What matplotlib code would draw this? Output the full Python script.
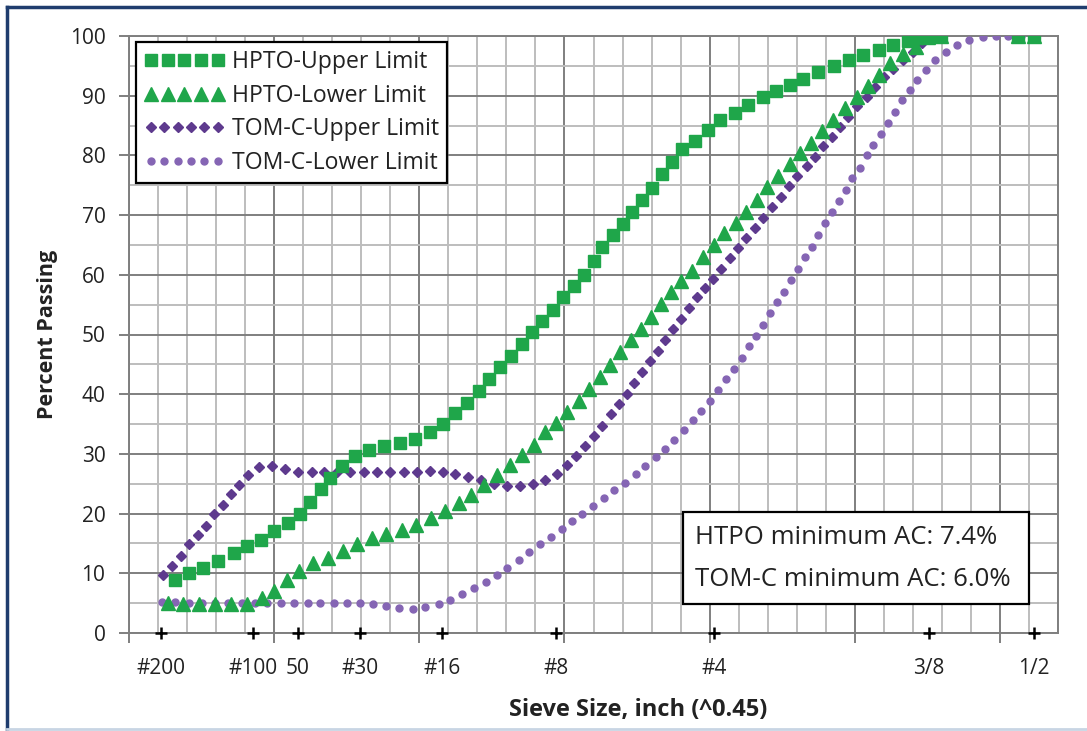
import numpy as np
import matplotlib
matplotlib.use("Agg")
import matplotlib.pyplot as plt
from matplotlib.legend_handler import HandlerLine2D
from matplotlib.patches import Rectangle
from matplotlib.lines import Line2D

plt.rcParams["font.family"] = ["Open Sans", "DejaVu Sans"]

# sieve labels, positions = opening (mm) ^ 0.45
sieve_labels = ["#200", "#100", "50", "#30", "#16", "#8", "#4", "3/8", "1/2"]
sieve_mm = np.array([0.0075, 0.15, 0.3, 0.6, 1.18, 2.36, 4.75, 9.5, 12.5])
sieve_x = sieve_mm ** 0.45

# HPTO upper limit (squares)
hu_x = [0.159, 0.205, 0.256, 0.308, 0.360, 0.406, 0.455, 0.501, 0.546, 0.590,
        0.624, 0.660, 0.694, 0.733, 0.779, 0.828, 0.879, 0.932, 0.984, 1.036,
        1.082, 1.124, 1.164, 1.205, 1.241, 1.279, 1.316, 1.352, 1.389, 1.423,
        1.460, 1.495, 1.532, 1.567, 1.601, 1.630, 1.667, 1.701, 1.733, 1.768,
        1.800, 1.837, 1.871, 1.906, 1.949, 1.994, 2.036, 2.086, 2.132, 2.185,
        2.228, 2.277, 2.323, 2.373, 2.427, 2.480, 2.530, 2.582, 2.633, 2.682,
        2.716, 2.751, 2.797, 3.062, 3.117]
hu_y = [8.8, 10.0, 10.9, 12.1, 13.4, 14.5, 15.5, 17.1, 18.4, 20.0,
        22.0, 24.1, 25.9, 27.9, 29.6, 30.7, 31.4, 31.8, 32.5, 33.6,
        35.0, 36.9, 38.6, 40.6, 42.5, 44.5, 46.4, 48.4, 50.4, 52.3,
        54.1, 56.2, 58.1, 60.0, 62.3, 64.7, 66.6, 68.5, 70.6, 72.5,
        74.6, 76.9, 78.9, 81.0, 82.4, 84.3, 85.9, 87.1, 88.4, 89.7,
        90.8, 91.8, 92.8, 94.0, 94.9, 96.0, 96.8, 97.7, 98.5, 99.1,
        99.6, 100, 100, 100, 100]

# HPTO lower limit (triangles)
hl_x = [0.133, 0.187, 0.241, 0.297, 0.352, 0.406, 0.458, 0.501, 0.544, 0.586,
        0.633, 0.684, 0.736, 0.785, 0.837, 0.886, 0.940, 0.990, 1.040, 1.090,
        1.136, 1.179, 1.224, 1.268, 1.311, 1.354, 1.394, 1.432, 1.472, 1.509,
        1.549, 1.584, 1.621, 1.656, 1.693, 1.728, 1.762, 1.797, 1.831, 1.866,
        1.903, 1.940, 1.977, 2.015, 2.049, 2.090, 2.127, 2.162, 2.199, 2.236,
        2.276, 2.311, 2.348, 2.386, 2.425, 2.466, 2.506, 2.544, 2.584, 2.622,
        2.667, 2.710, 2.751, 2.797, 3.062, 3.117]
hl_y = [5.1, 4.9, 4.8, 4.8, 4.8, 4.8, 5.8, 7.0, 8.8, 10.4,
        11.7, 12.5, 13.8, 14.9, 15.9, 16.6, 17.3, 18.1, 19.2, 20.4,
        21.8, 23.1, 24.8, 26.5, 28.1, 29.8, 31.5, 33.6, 35.2, 37.1,
        38.9, 40.8, 42.8, 44.9, 47.1, 49.1, 50.9, 53.0, 55.1, 57.1,
        59.0, 60.7, 63.0, 65.0, 67.0, 68.7, 70.6, 72.6, 74.7, 76.6,
        78.6, 80.4, 82.1, 84.1, 86.0, 87.9, 89.8, 91.6, 93.5, 95.5,
        97.0, 98.2, 99.9, 100, 100, 100]

# TOM-C upper limit (diamonds)
tu_x = [0.118, 0.149, 0.179, 0.208, 0.237, 0.265, 0.294, 0.323, 0.352, 0.380,
        0.409, 0.449, 0.494, 0.537, 0.583, 0.629, 0.672, 0.716, 0.762, 0.808,
        0.854, 0.900, 0.946, 0.992, 1.038, 1.082, 1.124, 1.168, 1.213, 1.256,
        1.302, 1.348, 1.392, 1.434, 1.475, 1.507, 1.538, 1.569, 1.601, 1.630,
        1.659, 1.687, 1.714, 1.739, 1.768, 1.794, 1.822, 1.848, 1.873, 1.900,
        1.929, 1.958, 1.984, 2.011, 2.040, 2.069, 2.098, 2.127, 2.156, 2.185,
        2.216, 2.245, 2.273, 2.302, 2.334, 2.362, 2.392, 2.420, 2.449, 2.477,
        2.509, 2.541, 2.570, 2.601, 2.633, 2.667, 2.699, 2.733, 2.760]
tu_y = [9.7, 11.2, 12.9, 14.9, 16.4, 18.0, 19.9, 21.4, 23.2, 24.8,
        26.4, 27.8, 27.9, 27.4, 27.0, 27.0, 26.9, 27.0, 27.0, 27.0,
        27.0, 27.0, 27.0, 27.0, 27.1, 27.0, 26.6, 26.2, 25.6, 24.9,
        24.6, 24.6, 25.0, 25.7, 26.7, 28.1, 29.7, 31.3, 33.0, 34.7,
        36.6, 38.3, 40.0, 41.8, 43.7, 45.5, 47.2, 49.1, 50.9, 52.6,
        54.4, 56.2, 57.8, 59.3, 61.0, 62.8, 64.5, 66.2, 67.9, 69.5,
        71.3, 73.1, 74.8, 76.5, 78.2, 79.8, 81.5, 83.0, 84.7, 86.4,
        88.2, 89.8, 91.4, 93.1, 94.4, 96.0, 97.4, 98.9, 100]

# TOM-C lower limit (dots)
tl_x = [0.113, 0.159, 0.205, 0.251, 0.297, 0.342, 0.389, 0.434, 0.475, 0.523,
        0.569, 0.615, 0.659, 0.705, 0.751, 0.794, 0.840, 0.885, 0.931, 0.977,
        1.021, 1.067, 1.107, 1.147, 1.187, 1.228, 1.268, 1.302, 1.342, 1.377,
        1.415, 1.452, 1.492, 1.527, 1.561, 1.598, 1.636, 1.672, 1.710, 1.745,
        1.779, 1.814, 1.848, 1.879, 1.911, 1.942, 1.972, 2.001, 2.030, 2.058,
        2.084, 2.110, 2.136, 2.161, 2.184, 2.208, 2.233, 2.256, 2.279, 2.304,
        2.329, 2.352, 2.375, 2.398, 2.421, 2.446, 2.469, 2.492, 2.517, 2.541,
        2.564, 2.590, 2.613, 2.638, 2.662, 2.690, 2.716, 2.745, 2.776, 2.814,
        2.852, 2.894, 2.940, 2.986, 3.029, 3.072, 3.116]
tl_y = [5.2, 5.2, 5.1, 5.1, 5.1, 5.1, 5.1, 5.1, 5.1, 5.1,
        5.1, 5.1, 5.1, 5.1, 5.1, 5.1, 4.9, 4.5, 4.2, 4.1,
        4.4, 4.9, 5.5, 6.6, 7.5, 8.6, 9.7, 10.9, 12.2, 13.5,
        14.9, 16.1, 17.5, 18.8, 20.0, 21.3, 22.6, 24.0, 25.2, 26.6,
        28.0, 29.4, 30.9, 32.4, 34.0, 35.6, 37.2, 38.9, 40.7, 42.5,
        44.2, 46.1, 48.0, 49.7, 51.6, 53.6, 55.4, 57.2, 59.1, 61.0,
        62.9, 64.7, 66.7, 68.6, 70.5, 72.4, 74.2, 76.2, 77.9, 80.0,
        81.7, 83.6, 85.5, 87.3, 89.2, 91.0, 92.6, 94.3, 96.0, 97.4,
        98.5, 99.3, 99.8, 100, 100, 100, 100]

green = "#1FA64A"
purple_dark = "#5E3A8E"
purple_light = "#8565B4"
grid_minor = "#BDBDBD"
grid_major = "#7F7F7F"
txt = "#222222"

fig = plt.figure(figsize=(10.87, 7.31), dpi=100)
ax = fig.add_axes([129 / 1087, 1 - 633 / 731, 929 / 1087, 597 / 731])

ax.set_xlim(0, 3.2)
ax.set_ylim(0, 100)
ax.set_xticks(np.arange(0, 3.21, 0.5))
ax.set_xticks(np.arange(0, 3.21, 0.1), minor=True)
ax.set_yticks(np.arange(0, 101, 10))
ax.set_yticks(np.arange(0, 101, 5), minor=True)
ax.grid(which="minor", color=grid_minor, lw=1.4)
ax.grid(which="major", color=grid_major, lw=1.4)
ax.set_axisbelow(True)
ax.tick_params(axis="x", which="major", labelbottom=False, length=7,
               direction="out", color=grid_major, width=1.4)
ax.tick_params(axis="both", which="minor", length=0)
ax.tick_params(axis="y", which="major", length=7, color=grid_major, width=1.4,
               labelsize=15, labelcolor=txt, pad=10)
for s in ax.spines.values():
    s.set_color(grid_major)
    s.set_linewidth(1.4)

# series
l4, = ax.plot(tl_x, tl_y, ls="none", marker="o", ms=5, color=purple_light,
              mec=purple_light, label="TOM-C-Lower Limit", zorder=3)
l3, = ax.plot(tu_x, tu_y, ls="none", marker="D", ms=5.6, color=purple_dark,
              mec=purple_dark, label="TOM-C-Upper Limit", zorder=4)
l2, = ax.plot(hl_x, hl_y, ls="none", marker="^", ms=10, color=green,
              mec=green, label="HPTO-Lower Limit", zorder=5)
l1, = ax.plot(hu_x, hu_y, ls="none", marker="s", ms=8, color=green,
              mec=green, label="HPTO-Upper Limit", zorder=6)

# sieve markers and labels
ax.plot(sieve_x, np.zeros(len(sieve_x)), ls="none", marker="+", ms=9,
        mew=1.8, color="black", clip_on=False, zorder=7)
for xv, lab in zip(sieve_x, sieve_labels):
    ax.text(xv, -5.9, lab, ha="center", va="center", fontsize=15, color=txt,
            clip_on=False)

leg = ax.legend(handles=[l1, l2, l3, l4], loc="upper left",
                bbox_to_anchor=(0.0075, 0.99), borderaxespad=0,
                fontsize=16.6, handlelength=3.5, handletextpad=0.3,
                labelspacing=0.42, borderpad=0.35, fancybox=False,
                framealpha=1, edgecolor="black",
                handler_map={l1: HandlerLine2D(numpoints=5),
                             l2: HandlerLine2D(numpoints=5),
                             l3: HandlerLine2D(numpoints=6),
                             l4: HandlerLine2D(numpoints=6)})
leg.get_frame().set_linewidth(1.6)
for t in leg.get_texts():
    t.set_color(txt)

# annotation box
ax.add_patch(Rectangle((0.5963, 0.0486), 0.3724, 0.1541, transform=ax.transAxes,
                       facecolor="white", edgecolor="black", lw=1.6, zorder=8))
ax.text(0.6093, 0.1608, "HTPO minimum AC: 7.4%", transform=ax.transAxes,
        ha="left", va="center", fontsize=18.5, color=txt, zorder=9)
ax.text(0.6093, 0.0888, "TOM-C minimum AC: 6.0%", transform=ax.transAxes,
        ha="left", va="center", fontsize=18.5, color=txt, zorder=9)

ax.set_ylabel("Percent Passing", fontsize=15.5, fontweight="bold", color=txt,
              va="center")
ax.yaxis.set_label_coords(-(129 - 48) / 929, 0.5)
fig.text(638 / 1087, 1 - 710 / 731, "Sieve Size, inch (^0.45)", ha="center",
         va="center", fontsize=17, fontweight="bold", color=txt)

# outer frame
fig.add_artist(Line2D([7 / 1087, 1], [1 - 7 / 731, 1 - 7 / 731],
                      color="#1F3D6E", lw=2.5))
fig.add_artist(Line2D([7 / 1087, 7 / 1087], [0, 1 - 7 / 731],
                      color="#1F3D6E", lw=2.5))
fig.add_artist(Line2D([7 / 1087, 1], [1 - 729 / 731, 1 - 729 / 731],
                      color="#C8D5E4", lw=2))

fig.savefig("out.png", dpi=100)
